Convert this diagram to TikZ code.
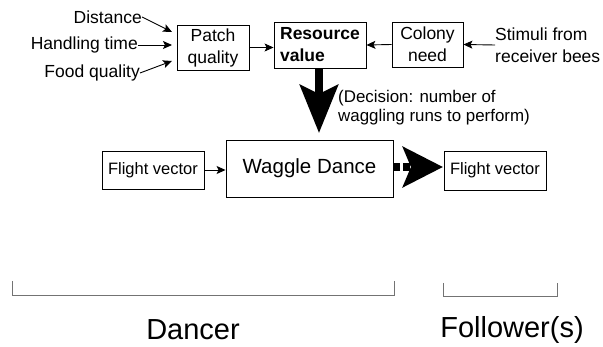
\documentclass[tikz,border=0pt]{standalone}
\usepackage{fontspec}
\setmainfont{Liberation Sans}
\usetikzlibrary{arrows.meta}

\tikzset{
  kasten/.style={draw, line width=0.9pt, inner sep=0pt, align=center},
  txt/.style={inner sep=0pt, font=\fontsize{17.5}{22}\selectfont},
  pfeil/.style={line width=0.9pt, -{Stealth[length=9pt,width=8pt,inset=2pt]}},
  dick/.style={line width=8pt, -{Stealth[length=48pt,width=38pt,inset=9pt]}},
  klammer/.style={line width=1pt, black!55},
}

\begin{document}
\begin{tikzpicture}[x=1pt,y=-1pt]
        \useasboundingbox (0,0) rectangle (603,347);

        % zeichne Einflussgroessen
        \node[txt, anchor=east] (dist) at (142,17) {Distance};
        \node[txt, anchor=east] (hand) at (138,45) {Handling time};
        \node[txt, anchor=east] (food) at (140,73) {Food quality};
        \coordinate (in1) at (172,32);
        \coordinate (in2) at (172,45);
        \coordinate (in3) at (172,61);

        % zeichne Kaesten oben
        \node[kasten, minimum width=72pt, minimum height=45pt, font=\fontsize{17.5}{22}\selectfont] (patch) at (213,47.5) {Patch\\quality};
        \node[kasten, minimum width=92pt, minimum height=46pt, align=left, font=\fontsize{17.5}{22}\selectfont\bfseries] (res) at (320,45) {Resource\\value};
        \node[kasten, minimum width=71pt, minimum height=45pt, font=\fontsize{17.5}{22}\selectfont] (col) at (427.5,44.5) {Colony\\need};
        \node[txt, anchor=west, align=left] (stim) at (495,45) {Stimuli from\\receiver bees};

        % zeichne Pfeile oben
        \draw[pfeil] (dist.east) -- (in1);
        \draw[pfeil] (hand.east) -- (in2);
        \draw[pfeil] (food.east) -- (in3);
        \draw[pfeil] (patch.east) -- (patch.east -| res.west);
        \draw[pfeil] (col.west) -- (res.east);
        \draw[pfeil] (stim.west) -- (col.east);

        % zeichne Tanz
        \node[kasten, minimum width=167pt, minimum height=57pt, font=\fontsize{20.5}{24}\selectfont] (wag) at (309.5,168.5) {Waggle Dance};
        \node[kasten, minimum width=102pt, minimum height=38pt, font=\fontsize{16.5}{20}\selectfont] (fv1) at (153,170) {Flight vector};
        \node[kasten, minimum width=102pt, minimum height=39pt, font=\fontsize{16.5}{20}\selectfont] (fv2) at (495,170.5) {Flight vector};
        \node[anchor=west, inner sep=0pt, align=left, font=\fontsize{16.9}{19.5}\selectfont] (dec) at (338,107.5) {(Decision: number of\\waggling runs to perform)};

        \draw[dick] (res.south -| 319,0) -- (319,133);
        \draw[pfeil] (fv1.east) -- (fv1.east -| wag.west);
        \draw[line width=8pt, dash pattern=on 7pt off 3pt, -{Stealth[length=40pt,width=40pt,inset=8pt]}] (wag.east |- 0,167) -- (443,167);

        % zeichne Klammern
        \draw[klammer] (12,281) -- (12,296) -- (394,296) -- (394,281);
        \draw[klammer] (443,283) -- (443,297) -- (557,297) -- (557,283);
        \node[inner sep=0pt, font=\fontsize{29}{34}\selectfont] (danc) at (193,330) {Dancer};
        \node[inner sep=0pt, font=\fontsize{29}{34}\selectfont] (foll) at (512,330) {Follower(s)};
    \end{tikzpicture}
\end{document}
